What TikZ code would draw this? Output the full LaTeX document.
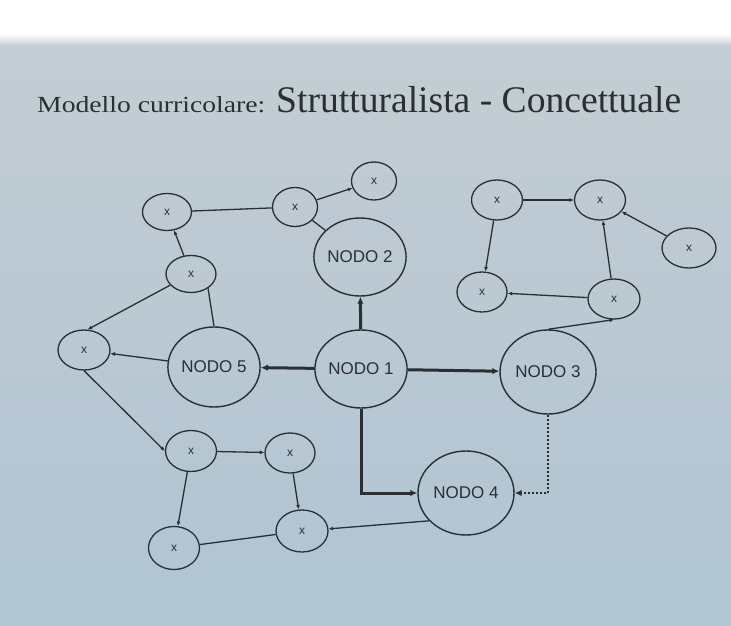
\documentclass[tikz,border=0pt]{standalone}
\usepackage{fontspec}
\setmainfont{Liberation Serif}
\newfontfamily\nodefont{Liberation Sans}
\usetikzlibrary{shapes.geometric,arrows.meta}
\definecolor{pagebg}{RGB}{196,205,211}
\definecolor{pagebg2}{RGB}{178,197,211}
\definecolor{ink}{RGB}{42,47,52}
\tikzset{
 bignode/.style={ellipse,draw=ink,line width=1.4pt,inner sep=0pt,font=\nodefont\fontsize{17}{17}\selectfont,text=ink},
 xnode/.style={ellipse,draw=ink,line width=1.3pt,inner sep=0pt,minimum width=50pt,minimum height=39pt,font=\nodefont\fontsize{12}{12}\selectfont,text=ink},
 thinline/.style={draw=ink,line width=1.3pt},
 thinarrow/.style={thinline,-{Latex[length=4.5pt,width=4pt]}},
 thickarrow/.style={draw=ink,line width=3pt,-{Latex[length=7pt,width=6.5pt]}},
 dotarrow/.style={draw=ink,line width=2.6pt,dash pattern=on 2pt off 2pt,-{Latex[length=7pt,width=6.5pt]}}
}
\begin{document}
\begin{tikzpicture}[x=1pt,y=-1pt]
\useasboundingbox (0,0) rectangle (731,626);
% page
\fill[pagebg2] (-5,40) rectangle (736,632);
\shade[top color=pagebg,bottom color=pagebg2] (-5,44) rectangle (736,560);
\fill[white] (-5,-5) rectangle (736,34);
\shade[top color=white,bottom color=pagebg] (-5,34) rectangle (736,46);
% title
\node[anchor=base west,inner sep=0pt,text=ink] (t1) at (37,112) {\resizebox{228pt}{16pt}{\fontsize{20}{20}\selectfont Modello curricolare:}};
\node[anchor=base west,inner sep=0pt,text=ink] (t2) at (276,112) {\resizebox{405pt}{!}{\fontsize{36}{36}\selectfont Strutturalista - Concettuale}};
% main nodes
\node[bignode,minimum width=90pt,minimum height=78pt] (n1) at (361,369) {NODO 1};
\node[bignode,minimum width=84pt,minimum height=78pt] (n2) at (360,257) {NODO 2};
\node[bignode,minimum width=96pt,minimum height=84pt] (n3) at (548,372) {NODO 3};
\node[bignode,minimum width=96pt,minimum height=84pt] (n4) at (466,493) {NODO 4};
\node[bignode,minimum width=88pt,minimum height=80pt] (n5) at (214,367) {NODO 5};
% small nodes, upper left
\node[xnode,minimum width=45pt,minimum height=38pt] (xT) at (374,181) {x};
\node[xnode,minimum width=45pt,minimum height=39pt] (xM) at (295,207) {x};
\node[xnode,minimum width=49pt,minimum height=37pt] (xTL) at (167,212) {x};
\node[xnode,minimum width=50pt,minimum height=37pt] (xN) at (191,274) {x};
\node[xnode,minimum width=52pt,minimum height=40pt] (xL) at (84,350) {x};
% small nodes, bottom
\node[xnode,minimum width=51pt,minimum height=41pt] (xF) at (191,451) {x};
\node[xnode,minimum width=50pt,minimum height=40pt] (xG) at (290,453) {x};
\node[xnode,minimum width=51pt,minimum height=43pt] (xH) at (174,548) {x};
\node[xnode,minimum width=52pt,minimum height=42pt] (xI) at (302,531) {x};
% small nodes, right
\node[xnode,minimum width=51pt,minimum height=40pt] (xA) at (497,200) {x};
\node[xnode,minimum width=51pt,minimum height=40pt] (xB) at (600,200) {x};
\node[xnode,minimum width=54pt,minimum height=40pt] (xC) at (689,248) {x};
\node[xnode,minimum width=50pt,minimum height=40pt] (xD) at (482,292) {x};
\node[xnode,minimum width=52pt,minimum height=40pt] (xE) at (614,299) {x};
% thick connectors
\draw[thickarrow] (n1) -- (n2);
\draw[thickarrow] (n1) -- (n5);
\draw[thickarrow] (n1) -- (n3);
\draw[thickarrow] (n1) |- (n4);
\draw[dotarrow] (n3) |- (n4);
% thin connectors, upper left
\draw[thinarrow] (xM) -- (xT);
\draw[thinline] (xM) -- (n2);
\draw[thinline] (xTL) -- (xM);
\draw[thinarrow] (xN) -- (xTL);
\draw[thinline] (n5.north) -- (xN.-40);
\draw[thinarrow] (xN) -- (xL.80);
\draw[thinarrow] (n5) -- (xL);
% bottom
\draw[thinarrow] (xL.south) -- (xF.west);
\draw[thinarrow] (xF) -- (xG);
\draw[thinarrow] (xF) -- (xH);
\draw[thinarrow] (xG) -- (xI);
\draw[thinline] (xI) -- (xH);
\draw[thinarrow] (n4.217) -- (xI);
% right
\draw[thinarrow] (n3.north) -- (xE.south);
\draw[thinarrow] (xE) -- (xD);
\draw[thinarrow] (xE) -- (xB);
\draw[thinarrow] (xA) -- (xB);
\draw[thinarrow] (xA) -- (xD);
\draw[thinarrow] (xC) -- (xB);
\end{tikzpicture}
\end{document}
